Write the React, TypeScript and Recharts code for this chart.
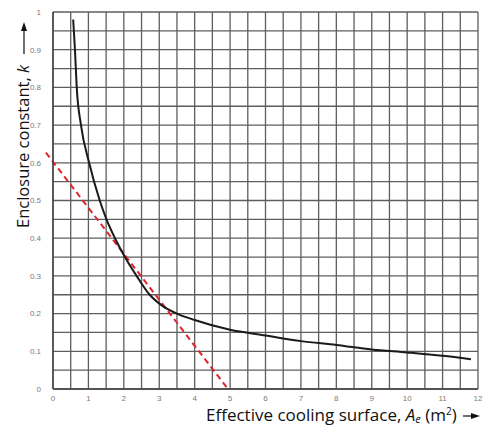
import { LineChart, Line, XAxis, YAxis, CartesianGrid, ReferenceLine } from 'recharts';

// enclosure constant curve
const curveX = [0.57, 0.62, 0.67, 0.79, 1.02, 1.32, 1.51, 1.75, 2.03, 2.36, 2.73, 3.1, 3.5, 4, 5, 6, 7, 8, 9, 10, 11, 11.8];
const curveK = [0.98, 0.9, 0.8, 0.7, 0.6, 0.5, 0.45, 0.4, 0.35, 0.3, 0.25, 0.22, 0.2, 0.183, 0.157, 0.142, 0.127, 0.117, 0.105, 0.097, 0.088, 0.079];

// red dashed tangent
const tangentX = [-0.2, 4.94];
const tangentK = [0.627, 0];

const xTicks = [0, 0.5, 1, 1.5, 2, 2.5, 3, 3.5, 4, 4.5, 5, 5.5, 6, 6.5, 7, 7.5, 8, 8.5, 9, 9.5, 10, 10.5, 11, 11.5, 12];
const yTicks = [0, 0.05, 0.1, 0.15, 0.2, 0.25, 0.3, 0.35, 0.4, 0.45, 0.5, 0.55, 0.6, 0.65, 0.7, 0.75, 0.8, 0.85, 0.9, 0.95, 1];

const data = curveX.map((x, i) => ({ x, k: curveK[i] }));

const tickStyle = { fill: '#7a7a7a', fontSize: 8, fontFamily: 'Arial, Liberation Sans, sans-serif' };
const labelFont = '"Open Sans", "Noto Sans", sans-serif';

function XLabel() {
    return (
        <g>
            <text x={206} y={421} fontSize={17} fontFamily={labelFont} fill="#111">
                Effective cooling surface, <tspan fontStyle="italic">A</tspan>
                <tspan fontStyle="italic" fontSize={11} dy={2}>e</tspan>
                <tspan dy={-2}> (m</tspan>
                <tspan fontSize={10} dy={-6}>2</tspan>
                <tspan dy={6}>)</tspan>
            </text>
            <line x1={463} y1={416} x2={474} y2={416} stroke="#111" strokeWidth={1.2} />
            <polygon points="480,416 471,413 471,419" fill="#111" />
        </g>
    );
}

function YLabel() {
    return (
        <g>
            <text
                x={0}
                y={0}
                transform="translate(29,228) rotate(-90)"
                fontSize={16.5}
                fontFamily={labelFont}
                fill="#111"
            >
                Enclosure constant, <tspan fontStyle="italic">k</tspan>
            </text>
            <line x1={24} y1={54} x2={24} y2={30} stroke="#111" strokeWidth={1.2} />
            <polygon points="24,22 21,31 27,31" fill="#111" />
        </g>
    );
}

export default function App() {
    return (
        <div style={{ position: 'absolute', left: 0, top: 0, width: 484, height: 429, background: '#fff' }}>
            <LineChart width={484} height={429} data={data} margin={{ top: 12, right: 6, left: 1, bottom: 0 }}>
                <CartesianGrid stroke="#5e5e5e" strokeWidth={1.3} />
                <XAxis
                    dataKey="x"
                    type="number"
                    domain={[0, 12]}
                    ticks={xTicks}
                    interval={0}
                    height={40}
                    tickLine={false}
                    axisLine={{ stroke: '#444', strokeWidth: 1.5 }}
                    tick={tickStyle}
                    tickMargin={0}
                    tickFormatter={(v) => (Number.isInteger(v) ? String(v) : '')}
                />
                <YAxis
                    type="number"
                    domain={[0, 1]}
                    ticks={yTicks}
                    interval={0}
                    width={52}
                    tickLine={false}
                    axisLine={{ stroke: '#444', strokeWidth: 1.5 }}
                    tick={tickStyle}
                    tickMargin={6}
                    tickFormatter={(v) => {
                        const r = Math.round(v * 100);
                        return r % 10 === 0 ? String(r / 100) : '';
                    }}
                />
                <ReferenceLine
                    segment={[
                        { x: tangentX[0], y: tangentK[0] },
                        { x: tangentX[1], y: tangentK[1] },
                    ]}
                    ifOverflow="visible"
                    stroke="#e0242a"
                    strokeWidth={2}
                    strokeDasharray="6 4"
                />
                <Line
                    type="monotone"
                    dataKey="k"
                    stroke="#1a1a1a"
                    strokeWidth={2}
                    dot={false}
                    isAnimationActive={false}
                />
                <XLabel />
                <YLabel />
            </LineChart>
        </div>
    );
}
